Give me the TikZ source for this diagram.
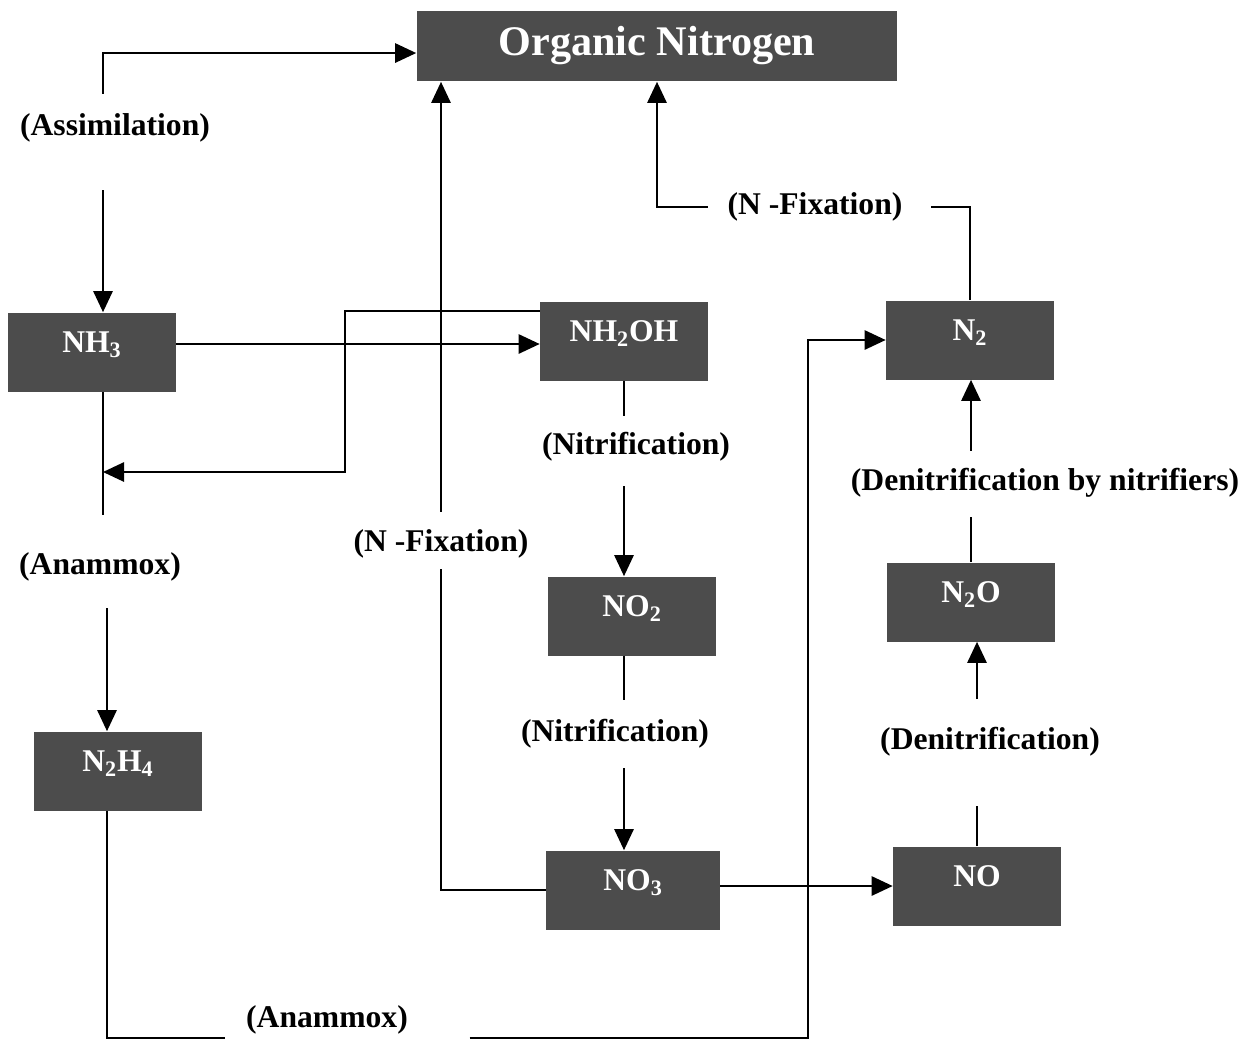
\documentclass[tikz,border=0pt]{standalone}
\usepackage{fontspec}
\setmainfont{Liberation Serif}
\usetikzlibrary{arrows.meta}
\tikzset{
  species/.style={fill=black!70,text=white,font=\bfseries\fontsize{18}{20}\selectfont,
    minimum width=3.36cm,minimum height=1.58cm,inner sep=0pt,text height=12.5pt,text depth=12pt},
  pool/.style={fill=black!70,text=white,font=\bfseries\fontsize{24}{28}\selectfont,
    minimum width=9.62cm,minimum height=1.42cm,inner sep=0pt},
  process/.style={font=\bfseries\fontsize{18}{20}\selectfont,inner sep=1pt},
  flow/.style={line width=1.1pt,-{Triangle[length=12pt,width=11pt]}},
  link/.style={line width=1.1pt}
}
\begin{document}
\begin{tikzpicture}[x=0.02cm,y=-0.02cm]
\useasboundingbox (0,0) rectangle (1260,1042);
% boxes
\node[pool] (orgN) at (657,46) {Organic Nitrogen};
\node[species] (nh3) at (92,352) {NH\textsubscript{3}};
\node[species] (nh2oh) at (624,341) {NH\textsubscript{2}OH};
\node[species] (no2) at (632,616) {NO\textsubscript{2}};
\node[species] (n2h4) at (118,771) {N\textsubscript{2}H\textsubscript{4}};
\node[species,minimum width=3.48cm] (no3) at (633,890) {NO\textsubscript{3}};
\node[species] (no) at (977,886) {NO};
\node[species] (n2) at (970,340) {N\textsubscript{2}};
\node[species] (n2o) at (971,602) {N\textsubscript{2}O};
% processes
\node[process] (assim) at (115,128) {(Assimilation)};
\node[process] (anamA) at (100,567) {(Anammox)};
\node[process] (fixA) at (441,544) {(N -Fixation)};
\node[process] (nitA) at (636,447) {(Nitrification)};
\node[process] (nitB) at (615,734) {(Nitrification)};
\node[process] (fixB) at (815,207) {(N -Fixation)};
\node[process] (denitB) at (1045,483) {(Denitrification by nitrifiers)};
\node[process] (denitA) at (990,742) {(Denitrification)};
\node[process] (anamB) at (327,1020) {(Anammox)};
% line columns and rows
\coordinate (colA) at (103,0);
\coordinate (colB) at (107,0);
\coordinate (colC) at (808,0);
\coordinate (rowA) at (0,344);
\coordinate (rowB) at (0,1038);
\coordinate (loopB) at (345,472);
% assimilation
\draw[flow,shorten <=10pt] (assim.north -| colA) |- ([yshift=-4pt]orgN.west);
\draw[flow,shorten <=26pt] (assim.south -| colA) -- (nh3.north -| colA);
% nitrification
\draw[flow] (nh3.east |- rowA) -- (nh2oh.west |- rowA);
\draw[flow] ([yshift=17pt]nh2oh.west) -| (loopB) -- (loopB -| colA);
\draw[link,shorten >=8pt] (nh2oh.south) -- (nitA.north -| nh2oh.south);
\draw[flow,shorten <=13pt] (nitA.south -| nh2oh.south) -- (no2.north -| nh2oh.south);
\draw[link,shorten >=10pt] (no2.south -| nh2oh.south) -- (nitB.north -| nh2oh.south);
\draw[flow,shorten <=10pt] (nitB.south -| nh2oh.south) -- (no3.north -| nh2oh.south);
% anammox
\draw[link,shorten >=20pt] (nh3.south -| colA) -- (anamA.north -| colA);
\draw[flow,shorten <=14pt] (anamA.south -| colB) -- (n2h4.north -| colB);
\draw[link,shorten >=11pt] (n2h4.south -| colB) |- (anamB.west |- rowB);
\draw[flow,shorten <=34pt] (anamB.east |- rowB) -| (colC |- n2.west) -- (n2.west);
% fixation
\draw[link,shorten >=5pt] (no3.west) -| (fixA.south);
\draw[flow,shorten <=9pt] (fixA.north) -- (fixA.north |- orgN.south);
\draw[link,shorten >=15pt] (n2.north) |- (fixB.east);
\draw[flow,shorten <=10pt] (fixB.west) -| (orgN.south);
% denitrification
\draw[flow] (no3.east |- no.west) -- (no.west);
\draw[link,shorten >=27pt] (no.north) -- (denitA.south -| no.north);
\draw[flow,shorten <=15pt] (denitA.north -| no.north) -- (n2o.south -| no.north);
\draw[link,shorten >=10pt] (n2o.north) -- (denitB.south -| n2o.north);
\draw[flow,shorten <=9pt] (denitB.north -| n2o.north) -- (n2.south -| n2o.north);
\end{tikzpicture}
\end{document}
